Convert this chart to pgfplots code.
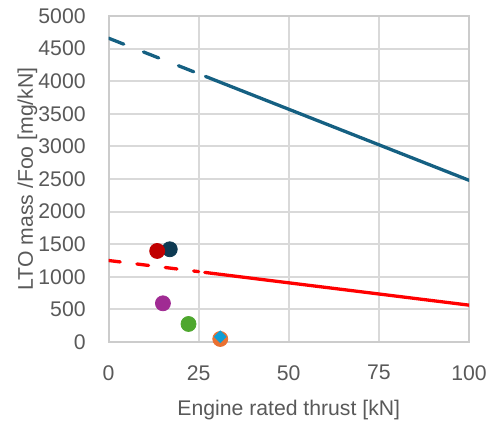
\documentclass[border=0pt]{standalone}
\usepackage{fontspec}
\setmainfont{Liberation Sans}
\usepackage{pgfplots}
\pgfplotsset{compat=1.18}
\definecolor{txt}{HTML}{595959}
\definecolor{gridc}{HTML}{D9D9D9}
\definecolor{axisc}{HTML}{CCCCCC}
\definecolor{tealline}{HTML}{156082}
\definecolor{redline}{HTML}{FF0000}
\definecolor{darkred}{HTML}{C00000}
\definecolor{navy}{HTML}{0E3A52}
\definecolor{purp}{HTML}{A02B93}
\definecolor{grn}{HTML}{4EA72E}
\definecolor{orng}{HTML}{E97132}
\definecolor{skyb}{HTML}{0F9ED5}

\begin{document}
\fontsize{10.6bp}{12.7bp}\selectfont
\begin{tikzpicture}
\begin{axis}[
    scale only axis,
    width=180.25bp, height=163bp,
    xmin=0, xmax=100, ymin=0, ymax=5000,
    xtick={0,25,...,100},
    ytick={0,500,...,5000},
    grid=major,
    major grid style={draw=gridc, line width=1bp},
    axis line style={draw=axisc, line width=1bp},
    major tick length=0pt,
    scaled ticks=false,
    /pgf/number format/1000 sep={},
    /pgf/number format/assume math mode=true,
    tick label style={text=txt},
    xticklabel style={anchor=north, inner sep=0pt, yshift=-11.5bp},
    yticklabel style={anchor=east, inner sep=0pt, xshift=-11.25bp},
    xlabel={Engine rated thrust [kN]},
    ylabel={LTO mass /Foo [mg/kN]},
    xlabel style={at={([yshift=-37bp]rel axis cs:0.5,0)}, anchor=base, text=txt},
    ylabel style={at={([xshift=-37.75bp]rel axis cs:0,0.5)}, anchor=base, text=txt},
]
% trend lines (dashed = extrapolated part)
\addplot[tealline, line width=1.65bp, line cap=round, dash pattern=on 8.2bp off 10.6bp]
    coordinates {(0,4660) (25,4115)};
\addplot[tealline, line width=1.65bp, line cap=round]
    coordinates {(26.9,4073) (100,2480)};
\addplot[redline, line width=1.65bp, line cap=round, dash pattern=on 5.9bp off 8.4bp]
    coordinates {(0,1250) (25,1079)};
\addplot[redline, line width=1.65bp, line cap=round]
    coordinates {(26.7,1067) (100,565)};
% engines
\addplot[only marks, mark=*, mark size=3.75bp, navy] coordinates {(17.0,1422)};
\addplot[only marks, mark=*, mark size=3.75bp, darkred] coordinates {(13.5,1396)};
\addplot[only marks, mark=*, mark size=3.75bp, purp] coordinates {(15.1,593)};
\addplot[only marks, mark=*, mark size=3.75bp, grn] coordinates {(22.2,276)};
\addplot[only marks, mark=*, mark size=3.75bp, orng] coordinates {(31.0,46)};
\addplot[only marks, mark=square*, mark size=2.05bp, mark options={rotate=45}, skyb] coordinates {(31.0,81)};
\coordinate (sw) at (rel axis cs:0,0);
\coordinate (ne) at (rel axis cs:1,1);
\end{axis}
\pgfresetboundingbox
\path[use as bounding box] ([xshift=-54.25bp,yshift=-40bp]sw) rectangle ([xshift=10.5bp,yshift=8bp]ne);
\end{tikzpicture}
\end{document}
